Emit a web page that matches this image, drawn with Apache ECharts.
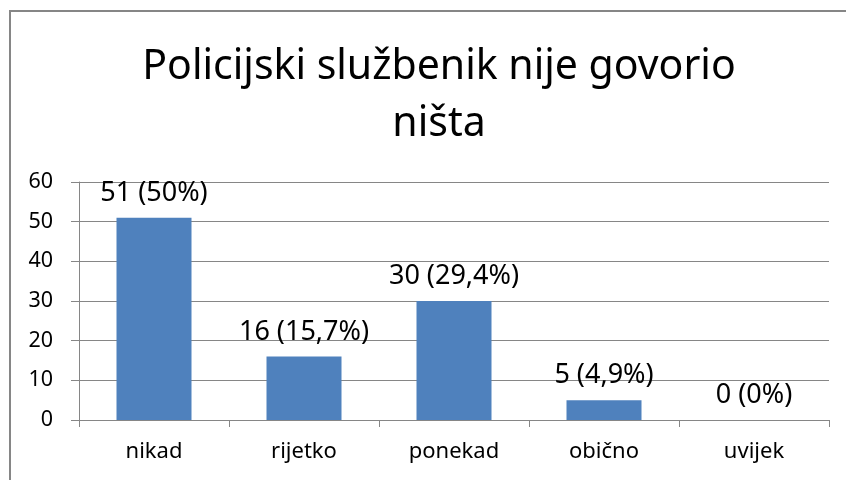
<!DOCTYPE html>
<html lang="hr">
<head>
    <meta charset="UTF-8">
    <title>Policijski službenik nije govorio ništa</title>
    <script src="https://cdn.jsdelivr.net/npm/echarts@6/dist/echarts.min.js"></script>
    <style>
        html, body { margin: 0; padding: 0; background: #fff; }
        #main { width: 846px; height: 480px; }
    </style>
</head>
<body>
<div id="main"></div>
<script>
    var categories = ['nikad', 'rijetko', 'ponekad', 'obično', 'uvijek'];
    var counts = [51, 16, 30, 5, 0];
    var percents = ['50%', '15,7%', '29,4%', '4,9%', '0%'];
    var yTicks = [0, 10, 20, 30, 40, 50, 60];

    var font = 'Noto Sans';
    var grey = '#868686';

    var myChart = echarts.init(document.getElementById('main'));
    var option = {
        animation: false,
        backgroundColor: '#fff',
        textStyle: { fontFamily: font, color: '#000' },
        title: {
            text: 'Policijski službenik nije govorio\nništa',
            left: 434,
            top: 34,
            textAlign: 'center',
            textStyle: { fontFamily: font, fontSize: 41, fontWeight: 'normal', color: '#000', lineHeight: 57 }
        },
        graphic: [{
            type: 'rect',
            shape: { x: 10, y: 11, width: 900, height: 500 },
            style: { fill: 'none', stroke: grey, lineWidth: 2 },
            silent: true
        }],
        grid: { left: 79, right: 17, top: 182, bottom: 60 },
        xAxis: {
            type: 'category',
            data: categories,
            axisLine: { lineStyle: { color: grey, width: 1 } },
            axisTick: { show: true, length: 7, lineStyle: { color: grey } },
            axisLabel: { color: '#000', fontSize: 22, fontFamily: font, margin: 21 }
        },
        yAxis: {
            type: 'value',
            min: yTicks[0],
            max: yTicks[yTicks.length - 1],
            interval: 10,
            axisLine: { show: true, lineStyle: { color: grey, width: 1 } },
            axisTick: { show: true, length: 8, lineStyle: { color: grey } },
            splitLine: { lineStyle: { color: grey, width: 1 } },
            axisLabel: { color: '#000', fontSize: 21.5, fontFamily: font, margin: 26 }
        },
        series: [{
            type: 'bar',
            data: counts,
            barWidth: '50%',
            itemStyle: { color: '#4F81BD' },
            label: {
                show: true,
                position: 'top',
                distance: 11,
                fontSize: 27,
                fontFamily: font,
                color: '#000',
                formatter: function (p) {
                    return counts[p.dataIndex] + ' (' + percents[p.dataIndex] + ')';
                }
            }
        }]
    };
    myChart.setOption(option, true);
</script>
</body>
</html>
